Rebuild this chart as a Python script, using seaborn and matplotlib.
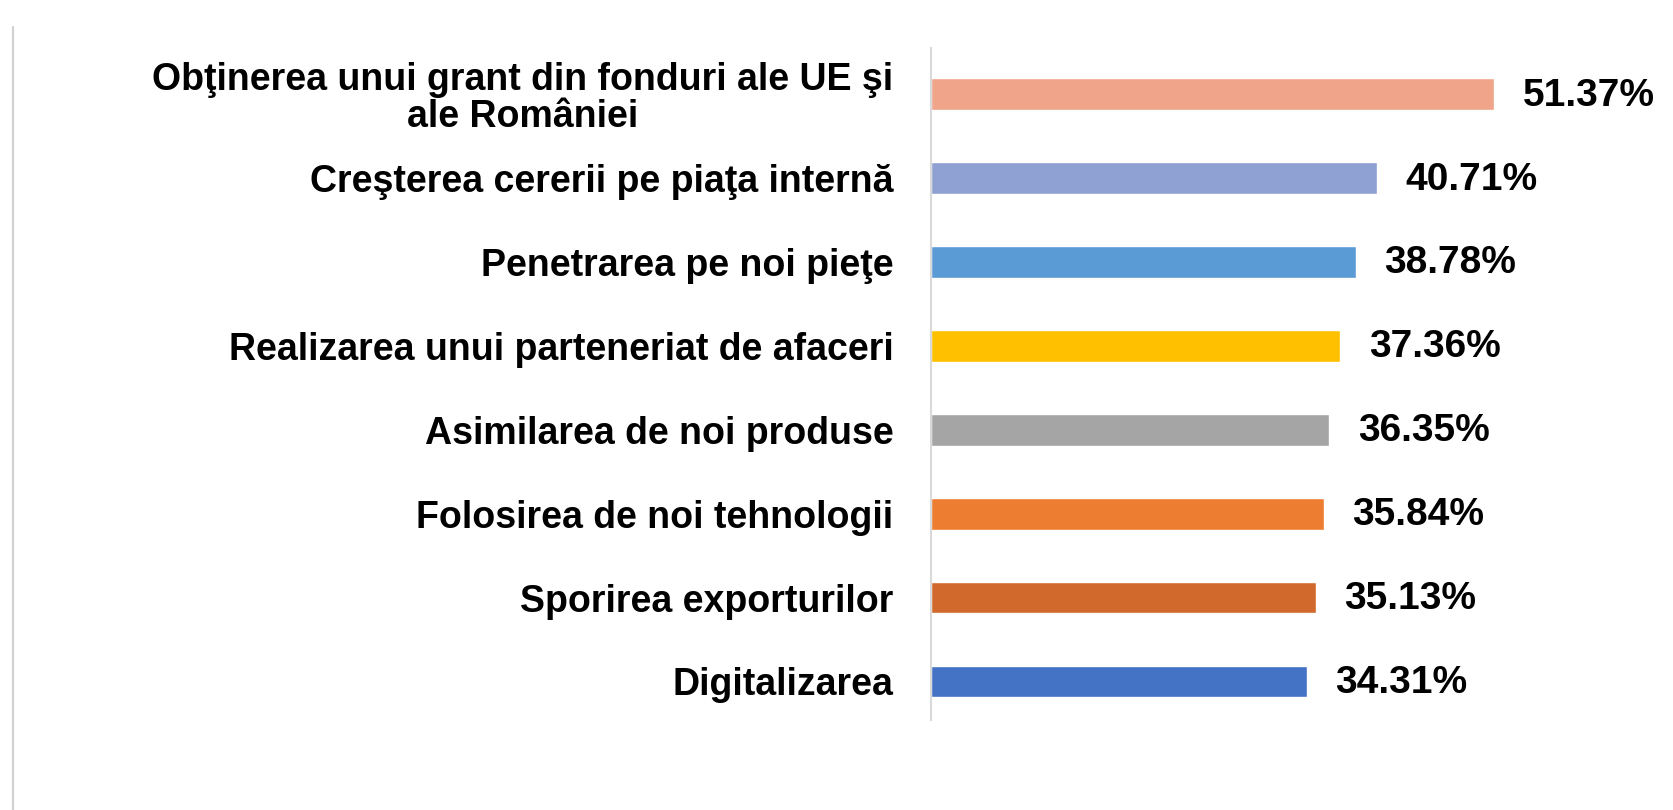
import pandas as pd
import numpy as np
import matplotlib
matplotlib.use('Agg')
import matplotlib.pyplot as plt
import seaborn as sns
from matplotlib.lines import Line2D

categories = ['Obţinerea unui grant din fonduri ale UE şi\nale României',
              'Creşterea cererii pe piaţa internă',
              'Penetrarea pe noi pieţe',
              'Realizarea unui parteneriat de afaceri',
              'Asimilarea de noi produse',
              'Folosirea de noi tehnologii',
              'Sporirea exporturilor',
              'Digitalizarea']
values = [51.37, 40.71, 38.78, 37.36, 36.35, 35.84, 35.13, 34.31]
colors = ['#F0A58A', '#8FA0D3', '#5B9BD5', '#FFC000',
          '#A5A5A5', '#ED7D31', '#D2692C', '#4472C4']

df = pd.DataFrame({'cat': categories, 'val': values})

sns.set_style('white')
plt.rcParams['font.family'] = ['Liberation Sans', 'DejaVu Sans']

fig = plt.figure(figsize=(16.73, 8.1), dpi=100)
ax = fig.add_axes([0.5565, 0.111, 0.4257, 0.83])

sns.barplot(data=df, x='val', y='cat', hue='cat', palette=colors,
            legend=False, width=0.38, saturation=1, ax=ax)

ax.set_xlim(0, 65)
ax.set_ylim(7.46, -0.55)
ax.set_xlabel('')
ax.set_ylabel('')
ax.set_xticks([])
ax.tick_params(axis='y', length=0, pad=27)
for lbl in ax.get_yticklabels():
    lbl.set_fontsize(27)
    lbl.set_fontweight('bold')
    lbl.set_color('black')
    lbl.set_multialignment('center')
    lbl.set_linespacing(1.05)

for s in ['top', 'right', 'bottom']:
    ax.spines[s].set_visible(False)
ax.spines['left'].set_color('#D9D9D9')
ax.spines['left'].set_linewidth(1.5)

for i, v in enumerate(values):
    ax.text(v + 2.6, i + 0.02, f'{v:.2f}%', va='center', ha='left',
            fontsize=28, fontweight='bold', color='black')

# thin frame line at the left edge of the picture
fig.add_artist(Line2D([0.008, 0.008], [0.0, 0.967], color='#D0D0D0',
                      linewidth=1.5, transform=fig.transFigure))

fig.savefig('out.png', dpi=100)
